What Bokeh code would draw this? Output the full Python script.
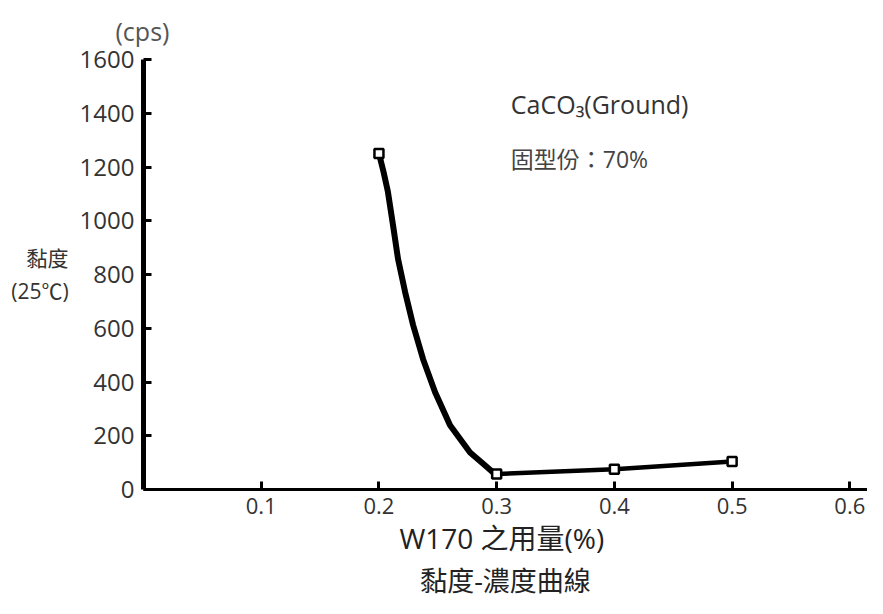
from bokeh.plotting import figure
from bokeh.models import FixedTicker, Label, Title, Range1d
from bokeh.embed import file_html
from bokeh.resources import INLINE

# Data
curve_x = [0.200, 0.2040, 0.2076, 0.2119, 0.2162, 0.2222, 0.2290, 0.2375, 0.2477, 0.2604, 0.2774, 0.2900, 0.2970, 0.300]
curve_y = [1250, 1180, 1108, 985, 858, 735, 612, 485, 362, 239, 138, 90, 63, 58]
tail_x = [0.30, 0.40, 0.50]
tail_y = [58, 75, 104]
marker_x = [0.20, 0.30, 0.40, 0.50]
marker_y = [1250, 58, 75, 104]
x_ticks = [0.1, 0.2, 0.3, 0.4, 0.5, 0.6]
y_ticks = [0, 200, 400, 600, 800, 1000, 1200, 1400, 1600]

FONT = "Open Sans"
MIX = "Open Sans, Noto Sans CJK TC"

p = figure(width=867, height=598, output_backend="svg", toolbar_location=None,
           x_range=Range1d(0, 0.615), y_range=Range1d(0, 1600),
           min_border_left=143, min_border_top=58, min_border_bottom=20, min_border_right=0)
p.outline_line_color = None
p.xgrid.grid_line_color = None
p.ygrid.grid_line_color = None
p.background_fill_color = "white"

p.line(curve_x, curve_y, line_color="black", line_width=6)
p.line(tail_x, tail_y, line_color="black", line_width=4.5)
p.scatter(marker_x, marker_y, marker="square", size=9, fill_color="white",
          line_color="black", line_width=2.5)

for ax in (p.xaxis[0], p.yaxis[0]):
    ax.axis_line_color = "black"
    ax.major_tick_line_color = "black"
    ax.major_tick_line_width = 3
    ax.major_tick_in = 8
    ax.major_tick_out = 0
    ax.minor_tick_line_color = None
    ax.major_label_text_color = "#333333"
    ax.major_label_text_font = FONT

p.yaxis[0].major_label_text_font_size = "24px"
p.xaxis[0].major_label_text_font_size = "22px"
p.yaxis[0].axis_line_width = 5
p.xaxis[0].axis_line_width = 3
p.yaxis[0].ticker = FixedTicker(ticks=y_ticks)
p.xaxis[0].ticker = FixedTicker(ticks=x_ticks)
p.yaxis[0].major_label_standoff = 9
p.xaxis[0].major_label_standoff = 8

p.yaxis[0].axis_label = "黏度\n(25℃)"
p.yaxis[0].axis_label_orientation = "horizontal"
p.yaxis[0].axis_label_text_font = MIX
p.yaxis[0].axis_label_text_font_style = "normal"
p.yaxis[0].axis_label_text_font_size = "21px"
p.yaxis[0].axis_label_text_color = "#333333"
p.yaxis[0].axis_label_standoff = 8

p.xaxis[0].axis_label = "W170  之用量(%)"
p.xaxis[0].axis_label_text_font = MIX
p.xaxis[0].axis_label_text_font_style = "normal"
p.xaxis[0].axis_label_text_font_size = "28px"
p.xaxis[0].axis_label_text_color = "#222222"
p.xaxis[0].axis_label_standoff = 2

t = Title(text="黏度-濃度曲線", align="center", text_font=MIX,
          text_font_size="27px", text_font_style="normal", text_color="#222222",
          standoff=0)
p.add_layout(t, "below")

cps = Title(text="(cps)", align="left", offset=-28, text_font=FONT,
            text_font_size="25px", text_font_style="normal", text_color="#555555",
            standoff=23)
p.add_layout(cps, "above")

p.add_layout(Label(x=0.312, y=1436, text="CaCO₃(Ground)", text_align="left", text_baseline="middle",
                   text_font=FONT, text_font_size="25px", text_color="#333333"))
p.add_layout(Label(x=0.312, y=1231, text="固型份：70%", text_align="left", text_baseline="middle",
                   text_font=MIX, text_font_size="23px", text_color="#444444"))

open("out.html", "w").write(file_html(p, INLINE))
